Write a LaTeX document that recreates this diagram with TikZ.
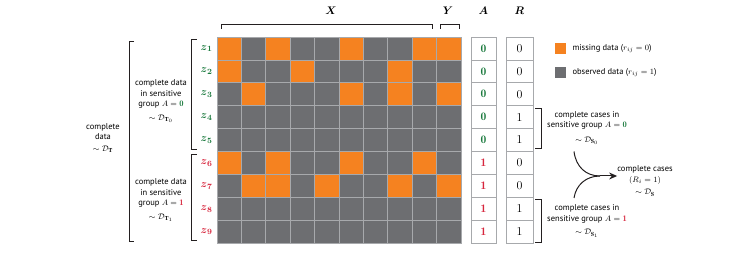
\documentclass[tikz,border=0pt]{standalone}
\usepackage{amsmath}
\usepackage{amssymb}
\usepackage{fontspec}
\setsansfont{PT Sans}
\usepackage{tikz}
\usetikzlibrary{arrows.meta, positioning, calc}
\definecolor{mdorange}{HTML}{F58220}
\definecolor{mdgray}{HTML}{6D6E71}
\definecolor{mdgrid}{HTML}{A7A9AC}
\definecolor{mdgreen}{HTML}{1B7A3E}
\definecolor{mdred}{HTML}{D7263D}
\definecolor{mdbrack}{HTML}{231F20}

\begin{document}
\begin{tikzpicture}[x=1pt, y=-1pt,
  every node/.style={font=\sffamily\fontsize{8.5}{10.5}\selectfont},
  cell/.style={draw=mdgrid, line width=0.7pt, minimum width=24.4pt,
               minimum height=22.9pt, inner sep=0pt},
  mis/.style={cell, fill=mdorange},
  obs/.style={cell, fill=mdgray},
  valbox/.style={draw=mdgrid, fill=white, line width=0.7pt, minimum height=22.9pt,
                 inner sep=0pt, font=\fontsize{11.5}{13}\selectfont},
  zlab/.style={font=\fontsize{11}{13}\selectfont, inner sep=0pt},
  collab/.style={font=\fontsize{10.5}{12}\selectfont, inner sep=0pt},
  brack/.style={draw=mdbrack, line width=0.9pt},
  txt/.style={align=center, inner sep=0pt},
  merge/.style={line width=1pt, color=mdbrack},
]
\useasboundingbox (0,0) rectangle (748,253);

% data matrix
\foreach \r/\vals in {1/{mis,obs,mis,obs,obs,mis,obs,obs,mis,mis},
                      2/{mis,obs,obs,mis,obs,obs,obs,mis,obs,obs},
                      3/{obs,mis,obs,obs,obs,mis,obs,mis,obs,mis},
                      4/{obs,obs,obs,obs,obs,obs,obs,obs,obs,obs},
                      5/{obs,obs,obs,obs,obs,obs,obs,obs,obs,obs},
                      6/{mis,obs,mis,obs,obs,mis,obs,obs,mis,obs},
                      7/{obs,mis,mis,obs,mis,obs,obs,mis,obs,mis},
                      8/{obs,obs,obs,obs,obs,obs,obs,obs,obs,obs},
                      9/{obs,obs,obs,obs,obs,obs,obs,obs,obs,obs}}{
  \foreach \v [count=\c] in \vals
    \node[\v] (c\r-\c) at ({217+24.4*(\c-0.5)}, {37+22.9*(\r-0.5)}) {};
}

% A and R columns, row labels
\foreach \r/\a/\col/\rv in {1/0/mdgreen/0, 2/0/mdgreen/0, 3/0/mdgreen/0,
                            4/0/mdgreen/1, 5/0/mdgreen/1, 6/1/mdred/0,
                            7/1/mdred/0, 8/1/mdred/1, 9/1/mdred/1}{
  \node[valbox, minimum width=25pt, text=\col] (a\r) at (483.5, {37+22.9*(\r-0.5)}) {$\mathbf{\a}$};
  \node[valbox, minimum width=27pt] (rv\r) at (519.5, {37+22.9*(\r-0.5)}) {$\rv$};
  \node[zlab, text=\col] (z\r) at (206.5, {37+22.9*(\r-0.5)}) {$\boldsymbol{z}_{\boldsymbol{\r}}$};
}

\node[collab] (labx) at (331,11)   {$\boldsymbol{X}$};
\node[collab] (laby) at (448,11)   {$\boldsymbol{Y}$};
\node[collab] (laba) at (483.5,11) {$\boldsymbol{A}$};
\node[collab] (labr) at (519.5,11) {$\boldsymbol{R}$};

\draw[brack] (221,29) -- (221,24.5) -- (432,24.5) -- (432,29);
\draw[brack] (440,29) -- (440,24.5) -- (459,24.5) -- (459,29);

\draw[brack] (196.5,39) -- (191,39) -- (191,149) -- (196.5,149);
\draw[brack] (196.5,154) -- (191,154) -- (191,240) -- (196.5,240);
\draw[brack] (134,41) -- (129,41) -- (129,241) -- (134,241);
\draw[brack] (535,108) -- (541,108) -- (541,148) -- (535,148);
\draw[brack] (535,199) -- (541,199) -- (541,242) -- (535,242);

\node[txt] (all) at (103,138) {complete\\data\\[1pt]$\sim\mathcal{D}_{\mathbf{T}}$};
\node[txt] (g0) at (161,101) {complete data\\in sensitive\\group $A = {\color{mdgreen}\mathbf{0}}$\\[3pt]$\sim\mathcal{D}_{\mathbf{T}_0}$\hspace{6pt}};
\node[txt] (g1) at (161,200) {complete data\\in sensitive\\group $A = {\color{mdred}\mathbf{1}}$\\[3pt]$\sim\mathcal{D}_{\mathbf{T}_1}$\hspace{6pt}};

\node[mis, draw=none, minimum width=11pt, minimum height=11pt] (kmis) at (560.5,48.5) {};
\node[obs, draw=none, minimum width=11pt, minimum height=11pt] (kobs) at (560.5,72.5) {};
\node[right=6pt of kmis, inner sep=0pt] (kmistxt) {missing data ($r_{ij} = 0$)};
\node[right=6pt of kobs, inner sep=0pt] (kobstxt) {observed data ($r_{ij} = 1$)};

\node[txt] (s0) at (587,128) {complete cases in\\sensitive group $A = {\color{mdgreen}\mathbf{0}}$\\[4pt]$\sim\mathcal{D}_{\mathbf{S}_0}$\hspace{24pt}};
\node[txt] (s1) at (587,221) {complete cases in\\sensitive group $A = {\color{mdred}\mathbf{1}}$\\[3pt]$\sim\mathcal{D}_{\mathbf{S}_1}$\hspace{24pt}};
\node[txt] (cc) at (645,181) {complete cases\\$(R_i = 1)$\\[2pt]$\sim\mathcal{D}_{\mathbf{S}}$};

\coordinate (m0) at (574,151.5);
\coordinate (m1) at (574,198);
\coordinate (mg) at (600,176);
\draw[merge] (m0) .. controls (576,167) and (586,176) .. (mg);
\draw[merge] (m1) .. controls (576,185) and (586,176) .. (mg);
\draw[merge, -{Stealth[length=8pt, width=7pt]}] (mg) -- (cc.west |- mg);

\end{tikzpicture}
\end{document}
